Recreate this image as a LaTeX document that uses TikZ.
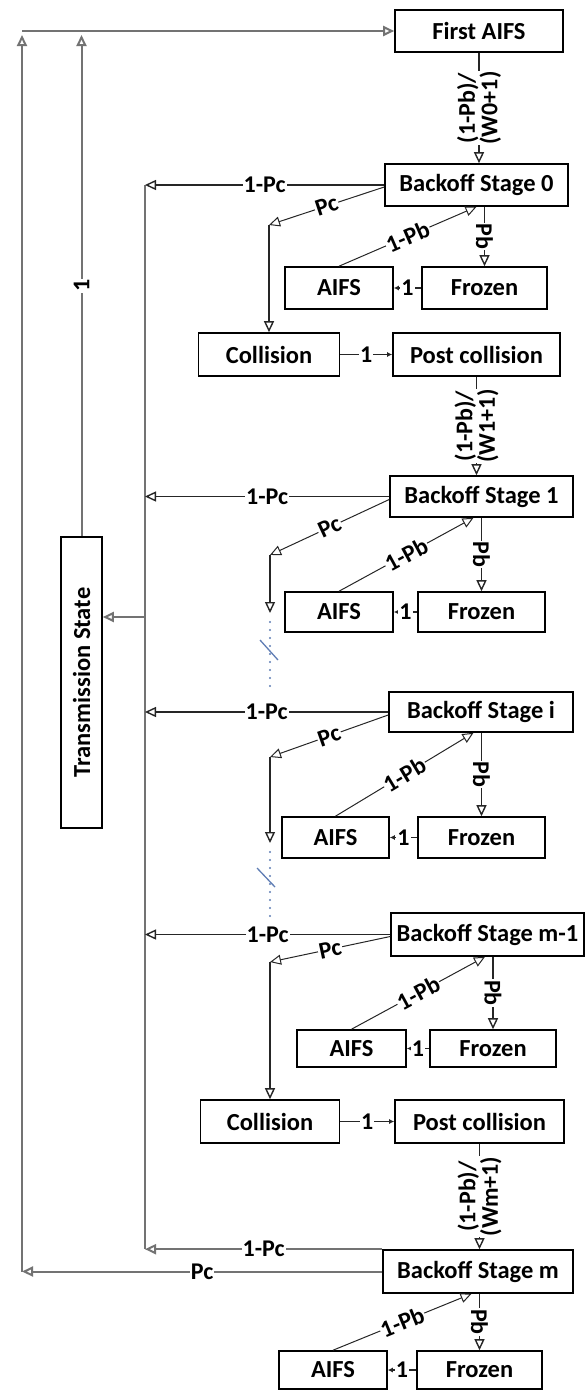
\documentclass[tikz,border=0pt]{standalone}
\usepackage{fontspec}
\setmainfont{Carlito}
\usetikzlibrary{arrows.meta,calc}
\begin{document}
\begin{tikzpicture}[x=1pt,y=-1pt,
 box/.style={draw, line width=1.6pt, inner sep=0pt, font=\fontsize{24.5}{27}\selectfont\bfseries},
 lbl/.style={fill=white, inner sep=1pt, font=\fontsize{24}{20}\selectfont\bfseries},
 conn/.style={line width=1.4pt, draw=black!85},
 thinc/.style={line width=1pt, draw=black!85},
 struct/.style={line width=2pt, draw=black!55},
 tri/.style={-{Triangle[open,length=11pt,width=10pt]}},
 smallarr/.style={-{Latex[length=5pt,width=5pt]}},
 dotline/.style={draw={rgb,255:red,95;green,125;blue,180}, line width=2.4pt, line cap=round, dash pattern=on 0pt off 8pt},
 slashline/.style={draw={rgb,255:red,95;green,125;blue,180}, line width=1.3pt},
]
\useasboundingbox (0,0) rectangle (586,1392);
\coordinate (bus) at (145,0);
\coordinate (outer) at (22,0);
\coordinate (tsrow) at (0,617);

% boxes
\node[box, minimum width=168pt, minimum height=42pt] (fa) at (479,31) {First AIFS};
\node[box, minimum width=183pt, minimum height=42pt] (b0) at (476.5,185) {Backoff Stage 0};
\node[box, minimum width=108pt, minimum height=42pt] (a0) at (339,288) {AIFS};
\node[box, minimum width=125pt, minimum height=42pt] (f0) at (484.5,288) {Frozen};
\node[box, minimum width=141pt, minimum height=43pt] (c0) at (269,354.5) {Collision};
\node[box, minimum width=167pt, minimum height=43pt] (p0) at (476.5,354.5) {Post collision};
\node[box, minimum width=183pt, minimum height=41pt] (b1) at (481.5,496.5) {Backoff Stage 1};
\node[box, minimum width=108pt, minimum height=40pt] (a1) at (339,612) {AIFS};
\node[box, minimum width=127pt, minimum height=40pt] (f1) at (481.5,612) {Frozen};
\node[box, minimum width=184pt, minimum height=40pt] (bi) at (481,712) {Backoff Stage i};
\node[box, minimum width=107pt, minimum height=41pt] (ai) at (335.5,837.5) {AIFS};
\node[box, minimum width=127pt, minimum height=41pt] (fi) at (481.5,837.5) {Frozen};
\node[box, minimum width=193pt, minimum height=43pt] (bm1) at (487.5,934.5) {Backoff Stage m-1};
\node[box, minimum width=109pt, minimum height=37pt] (am1) at (351.5,1048.5) {AIFS};
\node[box, minimum width=126pt, minimum height=37pt] (fm1) at (493,1048.5) {Frozen};
\node[box, minimum width=139pt, minimum height=43pt] (cm) at (270,1121.5) {Collision};
\node[box, minimum width=169pt, minimum height=43pt] (pm) at (479.5,1121.5) {Post collision};
\node[box, minimum width=190pt, minimum height=43pt] (bm) at (478,1271.5) {Backoff Stage m};
\node[box, minimum width=108pt, minimum height=38pt] (am) at (333,1370) {AIFS};
\node[box, minimum width=125pt, minimum height=38pt] (fm) at (479.5,1370) {Frozen};
\node[box, minimum width=41pt, minimum height=291pt] (ts) at (81.5,682.5) {\rotatebox{90}{Transmission State}};

% corner points
\coordinate (k0) at (269,225);
\coordinate (k1) at (270,555);
\coordinate (d1) at (270,613);
\coordinate (ki) at (270,757);
\coordinate (di) at (270,843);
\coordinate (km1) at (270,962);

% structural lines on the left
\draw[struct] (b0.west -| bus) -- (bm.north west -| bus);
\draw[struct,tri] (bus |- tsrow) -- (ts.east |- tsrow);
\draw[struct,tri] (bm.west -| outer) -- ($(outer |- fa.west)+(0,4)$);
\draw[struct,tri] (ts.north) -- node[lbl,rotate=90]{1} ($(ts.north |- fa.west)+(0,4)$);
\draw[struct,tri] (outer |- fa.west) -- (fa.west);
\draw[struct,tri] (bm.north west) -- node[lbl]{1-Pc} (bm.north west -| bus);
\draw[struct,tri] (bm.west) -- node[lbl]{Pc} (bm.west -| outer);

% vertical transitions with (1-Pb)/(W+1)
\draw[conn,tri] (fa.south) -- node[lbl,rotate=90,align=center]{(1-Pb)/\\(W0+1)} (fa.south |- b0.north);
\draw[conn,tri] (p0.south) -- node[lbl,rotate=90,align=center]{(1-Pb)/\\(W1+1)} (p0.south |- b1.north);
\draw[conn,tri] (pm.south) -- node[lbl,rotate=90,align=center]{(1-Pb)/\\(Wm+1)} (pm.south |- bm.north);

% stage 0
\draw[conn,tri] (b0.west) -- node[lbl]{1-Pc} (b0.west -| bus);
\draw[thinc,tri] ($(b0.west)+(0,2)$) -- node[lbl,sloped]{Pc} (k0);
\draw[conn,tri] (k0) -- (c0.north);
\draw[thinc,tri] (a0.north) -- node[lbl,sloped]{1-Pb} ($(f0.north |- b0.south)+(-8,0)$);
\draw[conn,tri] (f0.north |- b0.south) -- node[lbl,rotate=-90]{Pb} (f0.north);
\draw[conn,smallarr] (f0.west) -- node[lbl]{1} (a0.east);
\draw[conn,smallarr] (c0.east) -- node[lbl]{1} (p0.west);

% stage 1
\draw[conn,tri] (b1.west) -- node[lbl]{1-Pc} (b1.west -| bus);
\draw[thinc,tri] ($(b1.west)+(0,3)$) -- node[lbl,sloped]{Pc} (k1);
\draw[conn,tri] (k1) -- (d1);
\draw[thinc,tri] (a1.north) -- node[lbl,sloped]{1-Pb} ($(f1.north |- b1.south)+(-8,0)$);
\draw[conn,tri] (f1.north |- b1.south) -- node[lbl,rotate=-90]{Pb} (f1.north);
\draw[conn,smallarr] (f1.west) -- node[lbl]{1} (a1.east);
\draw[dotline] (270,622) -- (270,690);
\draw[slashline] (260,640) -- (278,660);

% stage i
\draw[conn,tri] (bi.west) -- node[lbl]{1-Pc} (bi.west -| bus);
\draw[thinc,tri] ($(bi.west)+(0,3)$) -- node[lbl,sloped]{Pc} (ki);
\draw[conn,tri] (ki) -- (di);
\draw[thinc,tri] (ai.north) -- node[lbl,sloped]{1-Pb} ($(fi.north |- bi.south)+(-8,0)$);
\draw[conn,tri] (fi.north |- bi.south) -- node[lbl,rotate=-90]{Pb} (fi.north);
\draw[conn,smallarr] (fi.west) -- node[lbl]{1} (ai.east);
\draw[dotline] (270,852) -- (270,918);
\draw[slashline] (257,868) -- (275,887);

% stage m-1
\draw[conn,tri] (bm1.west) -- node[lbl]{1-Pc} (bm1.west -| bus);
\draw[thinc,tri] ($(bm1.west)+(0,2)$) -- node[lbl,sloped]{Pc} (km1);
\draw[conn,tri] (km1) -- (cm.north);
\draw[thinc,tri] (am1.north) -- node[lbl,sloped]{1-Pb} ($(fm1.north |- bm1.south)+(-8,0)$);
\draw[conn,tri] (fm1.north |- bm1.south) -- node[lbl,rotate=-90]{Pb} (fm1.north);
\draw[conn,smallarr] (fm1.west) -- node[lbl]{1} (am1.east);
\draw[conn,smallarr] (cm.east) -- node[lbl]{1} (pm.west);

% stage m
\draw[thinc,tri] (am.north) -- node[lbl,sloped]{1-Pb} ($(fm.north |- bm.south)+(-8,0)$);
\draw[conn,tri] (fm.north |- bm.south) -- node[lbl,rotate=-90]{Pb} (fm.north);
\draw[conn,smallarr] (fm.west) -- node[lbl]{1} (am.east);
\end{tikzpicture}
\end{document}
